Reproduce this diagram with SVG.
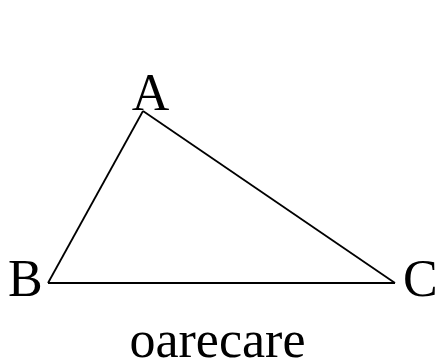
<svg xmlns="http://www.w3.org/2000/svg" width="443" height="361" viewBox="0 0 443 361">
<style>
text{font-family:"Liberation Serif","Times New Roman",serif;font-size:52px;fill:#000}
.edge{stroke:#000;stroke-width:1.8;fill:none}
</style>
<rect width="443" height="361" fill="#fff"/>
<g id="connectors">
<line class="edge" x1="143" y1="111" x2="48" y2="283"/>
<line class="edge" x1="143" y1="111" x2="395" y2="283"/>
<line class="edge" x1="48" y1="283" x2="395" y2="283"/>
</g>
<g id="node-A"><text x="150.5" y="110" text-anchor="middle">A</text></g>
<g id="node-B"><text x="8" y="296">B</text></g>
<g id="node-C"><text x="403" y="296">C</text></g>
<g id="label"><text x="217.5" y="357" text-anchor="middle">oarecare</text></g>
</svg>
